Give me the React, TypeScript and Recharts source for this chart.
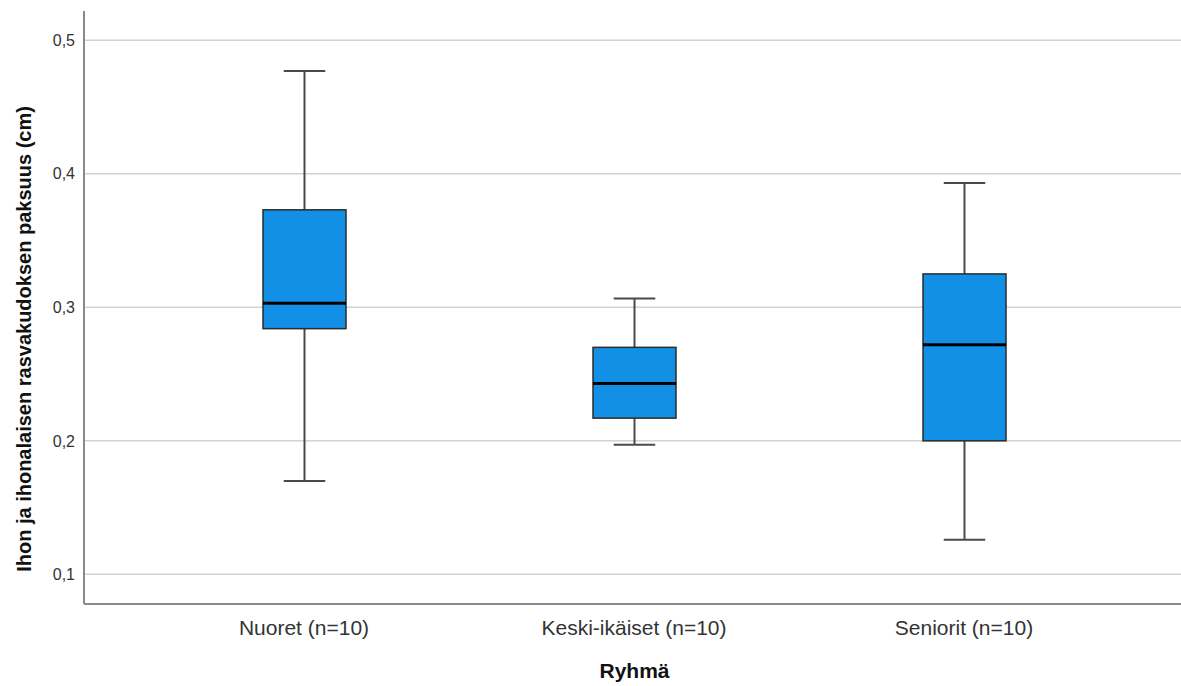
import { Bar, CartesianGrid, ComposedChart, XAxis, YAxis } from "recharts";

const groups = ["Nuoret (n=10)", "Keski-ikäiset (n=10)", "Seniorit (n=10)"];
const minValues = [0.17, 0.197, 0.126];
const q1Values = [0.284, 0.217, 0.2];
const medianValues = [0.303, 0.243, 0.272];
const q3Values = [0.373, 0.27, 0.325];
const maxValues = [0.477, 0.3065, 0.393];
const yTicks = [0.1, 0.2, 0.3, 0.4, 0.5];

const yTitle = "Ihon ja ihonalaisen rasvakudoksen paksuus (cm)";
const xTitle = "Ryhmä";

const font = '"Liberation Sans", Arial, sans-serif';

const rows = groups.map((group, i) => ({
  group,
  range: [minValues[i], maxValues[i]],
  min: minValues[i],
  q1: q1Values[i],
  median: medianValues[i],
  q3: q3Values[i],
  max: maxValues[i],
}));

// the bar spans min..max; the box parts are placed along it
function BoxShape(props: any) {
  const { x, y, width, height, payload } = props;
  const top = height >= 0 ? y : y + height;
  const h = Math.abs(height);
  const span = payload.max - payload.min;
  const toY = (v: number) => top + ((payload.max - v) / span) * h;
  const cx = x + width / 2;
  const capHalf = width / 4;
  const yQ3 = toY(payload.q3);
  const yQ1 = toY(payload.q1);
  const yMed = toY(payload.median);
  const yMax = toY(payload.max);
  const yMin = toY(payload.min);
  const whisker = "#4a4a4a";
  return (
    <g>
      <line x1={cx} x2={cx} y1={yMax} y2={yQ3} stroke={whisker} strokeWidth={2} />
      <line x1={cx} x2={cx} y1={yQ1} y2={yMin} stroke={whisker} strokeWidth={2} />
      <line x1={cx - capHalf} x2={cx + capHalf} y1={yMax} y2={yMax} stroke={whisker} strokeWidth={2} />
      <line x1={cx - capHalf} x2={cx + capHalf} y1={yMin} y2={yMin} stroke={whisker} strokeWidth={2} />
      <rect x={x} y={yQ3} width={width} height={yQ1 - yQ3} fill="#1190e6" stroke="#2b2b2b" strokeWidth={1.5} />
      <line x1={x} x2={x + width} y1={yMed} y2={yMed} stroke="#000" strokeWidth={3} />
    </g>
  );
}

const renderYTitle = () => (
  <text
    x={31}
    y={339}
    transform="rotate(-90, 31, 339)"
    textAnchor="middle"
    fontFamily={font}
    fontWeight="bold"
    fontSize={20}
    fill="#111"
  >
    {yTitle}
  </text>
);

const renderXTitle = (props: any) => {
  const vb = props.viewBox || {};
  const cx = (vb.x ?? 84) + (vb.width ?? 1097) / 2;
  return (
    <text x={cx + 2} y={678} textAnchor="middle" fontFamily={font} fontWeight="bold" fontSize={21} fill="#111">
      {xTitle}
    </text>
  );
};

// grid lines only at the tick values, none on the plot edges
const gridRows = (opts: any) => {
  const scale = opts?.yAxis?.scale;
  if (typeof scale === "function") return yTicks.map((t) => scale(t));
  if (scale && typeof scale.map === "function") return yTicks.map((t) => scale.map(t));
  return [];
};

export default function App() {
  return (
    <div style={{ position: "absolute", left: 0, top: 0, width: 1181, height: 686, background: "#fff" }}>
      <ComposedChart width={1181} height={686} data={rows} margin={{ top: 11, right: 0, bottom: 0, left: 0 }}>
        <CartesianGrid
          vertical={false}
          stroke="#d2d2d2"
          strokeWidth={1.5}
          horizontalCoordinatesGenerator={gridRows}
        />
        <XAxis
          dataKey="group"
          height={82}
          padding={{ left: 55, right: 52 }}
          tickLine={false}
          tickSize={0}
          tickMargin={16}
          axisLine={{ stroke: "#8a8a8a", strokeWidth: 2 }}
          tick={{ fontFamily: font, fontSize: 21, fill: "#333" }}
          label={{ value: xTitle, content: renderXTitle }}
        />
        <YAxis
          width={84}
          type="number"
          domain={[0.0778, 0.5219]}
          ticks={yTicks}
          tickFormatter={(v: number) => v.toFixed(1).replace(".", ",")}
          tickLine={false}
          tickSize={0}
          tickMargin={9}
          axisLine={{ stroke: "#8a8a8a", strokeWidth: 2 }}
          tick={{ fontFamily: font, fontSize: 16, fill: "#333" }}
          label={{ value: yTitle, content: renderYTitle }}
        />
        <Bar dataKey="range" barSize={83} shape={BoxShape} isAnimationActive={false} />
      </ComposedChart>
    </div>
  );
}
